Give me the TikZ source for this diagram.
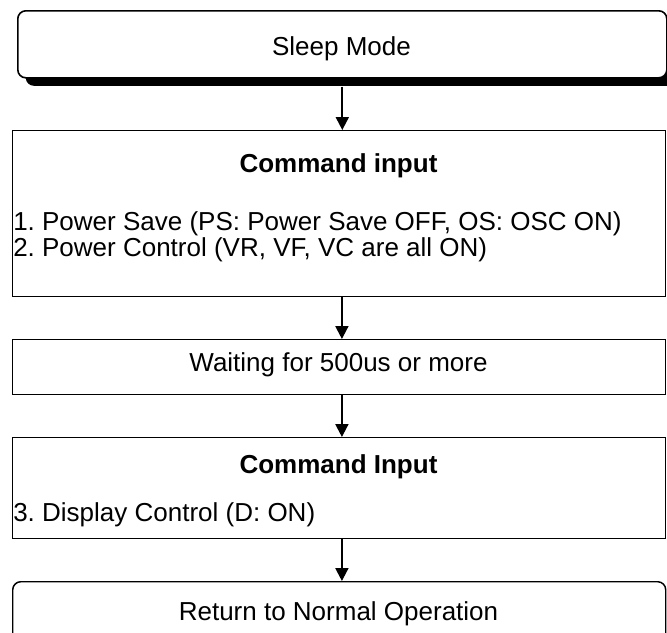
\documentclass[tikz,border=0pt]{standalone}
\usepackage{fontspec}
\setmainfont{Liberation Sans}
\frenchspacing
\usetikzlibrary{arrows.meta,shadows}
\begin{document}
\begin{tikzpicture}[x=0.75pt,y=-0.75pt,
  box/.style={draw=black, line width=1.1pt, fill=white, inner sep=0pt, anchor=north west},
  rbox/.style={box, rounded corners=6pt},
  txt/.style={font=\fontsize{19.5pt}{17.25pt}\selectfont\frenchspacing, inner sep=0pt, anchor=base},
  ltxt/.style={txt, anchor=base west, align=left},
  btxt/.style={txt, font=\fontsize{19.5pt}{17.25pt}\selectfont\bfseries},
  arr/.style={line width=1.5pt, -{Triangle[width=9.75pt,length=9.75pt]}},
]
\clip (0,0) rectangle (667,632);
\fill[white] (0,0) rectangle (667,632);
% boxes
\node[rbox, line width=1.2pt, minimum width=486.75pt, minimum height=50.25pt,
  drop shadow={shadow xshift=6pt, shadow yshift=-6pt, fill=black, opacity=1}] (sleep) at (17,10) {};
\node[box, minimum width=489.75pt, minimum height=124.5pt] (cmd1) at (12,130) {};
\node[box, minimum width=489.75pt, minimum height=41.25pt] (wait) at (12,339) {};
\node[box, minimum width=489.75pt, minimum height=75.75pt] (cmd2) at (12,437) {};
\node[rbox, minimum width=489.75pt, minimum height=45pt] (ret) at (12,581) {};
% texts
\node[txt] (tsleep) at (341.5,55.8) {Sleep Mode};
\node[btxt] (tcmd1) at (338.5,172.3) {Command input};
\node[ltxt] (tl12) at (13,256.3) {1. Power Save (PS: Power Save OFF, OS: OSC ON)\\2. Power Control (VR, VF, VC are all ON)};
\node[txt] (twait) at (338.5,371.3) {Waiting for 500us or more};
\node[btxt] (tcmd2) at (338.5,473.3) {Command Input};
\node[ltxt] (tl3) at (13,521.3) {3. Display Control (D: ON)};
\node[txt] (tret) at (338.5,620.3) {Return to Normal Operation};
% arrows
\draw[arr] ([yshift=-6pt]sleep.south) -- (sleep.south |- cmd1.north);
\draw[arr] ([xshift=2pt]cmd1.south) -- ([xshift=2pt]wait.north);
\draw[arr] ([xshift=2pt]wait.south) -- ([xshift=2pt]cmd2.north);
\draw[arr] ([xshift=2pt]cmd2.south) -- ([xshift=2pt]ret.north);
\end{tikzpicture}
\end{document}
